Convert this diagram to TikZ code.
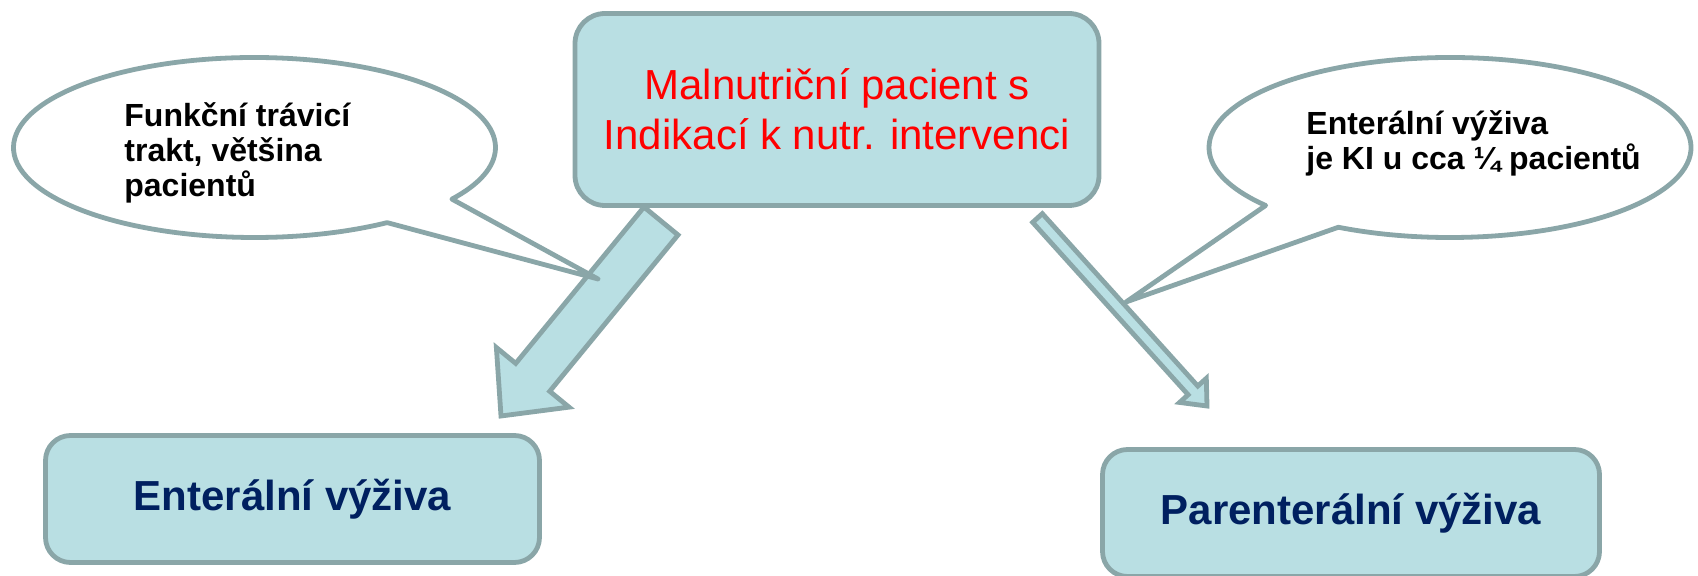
\documentclass[tikz,border=0pt]{standalone}
\usepackage{fontspec}
\setmainfont{Liberation Sans}
\usetikzlibrary{calc}
\definecolor{boxfill}{RGB}{185,223,227}
\definecolor{boxline}{RGB}{138,166,168}
\definecolor{navy}{RGB}{0,32,96}
\begin{document}
\begin{tikzpicture}[x=0.5pt, y=0.5pt,
    box/.style={draw=boxline, fill=boxfill, line width=2.4pt, rounded corners=12.5pt,
      align=center, inner sep=0pt},
    goal/.style={box, minimum width=247pt, minimum height=63.5pt, text=navy,
      font=\bfseries\fontsize{21pt}{25pt}\selectfont},
    blockarrow/.style={draw=boxline, fill=boxfill, line width=2.4pt, line join=miter},
    bubble/.style={draw=boxline, fill=white, line width=2.4pt, line join=round},
    note/.style={align=left, inner sep=0pt, anchor=west,
      font=\bfseries\fontsize{16pt}{17.5pt}\selectfont}]
  \useasboundingbox (0,0) rectangle (1698,-576);
  \node[box, rounded corners=15pt, minimum width=262pt, minimum height=96pt, text=red,
    font=\fontsize{21pt}{25pt}\selectfont] (patient) at (837,-109.5)
    {Malnutriční pacient s\\Indikací k nutr. intervenci};
  \node[goal] (enteral) at (292.5,-499) {Enterální výživa};
  \node[goal, minimum width=248.5pt] (parenteral) at (1351,-513) {Parenterální výživa};
  \coordinate (s1) at (661,-221);
  \coordinate (e1) at (501,-416);
  \coordinate (s2) at (1037.5,-218);
  \coordinate (e2) at (1207,-406);
  \foreach \src/\dst/\shaft/\head/\hlen in {s1/e1/11pt/23.5pt/25pt, s2/e2/3.25pt/9pt/10.5pt}
    \draw[blockarrow] ($(\src)!\shaft!90:(\dst)$) -- ($(\dst)!\hlen!(\src)!\shaft!90:(\dst)$)
      -- ($(\dst)!\hlen!(\src)!\head!90:(\dst)$) -- (\dst)
      -- ($(\dst)!\hlen!(\src)!\head!-90:(\dst)$) -- ($(\dst)!\hlen!(\src)!\shaft!-90:(\dst)$)
      -- ($(\src)!\shaft!-90:(\dst)$) -- cycle;
  \coordinate (c1) at (254.5,-147.5);
  \coordinate (t1) at (598,-279);
  \coordinate (c2) at (1450,-147.5);
  \coordinate (t2) at (1126,-302);
  \draw[bubble] ($(c1)+(-35:120.5pt and 45pt)$) -- (t1) -- ($(c1)+(-56.6:120.5pt and 45pt)$)
    arc[start angle=-56.6, end angle=-395, x radius=120.5pt, y radius=45pt] -- cycle;
  \draw[bubble] ($(c2)+(-139.9:120.5pt and 45pt)$) -- (t2) -- ($(c2)+(-117.6:120.5pt and 45pt)$)
    arc[start angle=-117.6, end angle=220.1, x radius=120.5pt, y radius=45pt] -- cycle;
  \node[note] (tract) at (124,-152.5) {Funkční trávicí\\trakt, většina\\pacientů};
  \node[note] (contra) at (1306,-143.5) {Enterální výživa\\je KI u cca ¼ pacientů};
\end{tikzpicture}
\end{document}
